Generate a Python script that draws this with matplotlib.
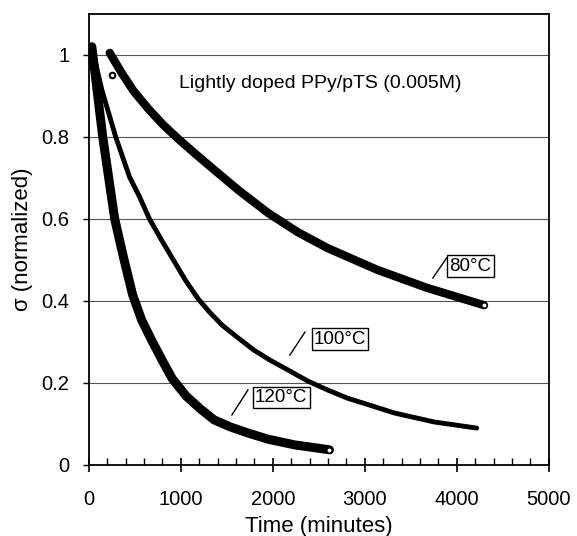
import numpy as np
import matplotlib
matplotlib.use("Agg")
import matplotlib.pyplot as plt
from matplotlib.ticker import MultipleLocator, FuncFormatter

plt.rcParams['font.family'] = ['Liberation Sans', 'DejaVu Sans']

# 80 C series (minutes, normalized sigma)
t80 = [227, 357, 486, 649, 811, 973, 1157, 1351, 1622, 1946, 2270, 2595, 3135, 3676, 4292]
s80 = [1.005, 0.956, 0.912, 0.868, 0.829, 0.795, 0.759, 0.722, 0.671, 0.615, 0.568, 0.529, 0.476, 0.432, 0.390]

# 100 C series
t100 = [32, 141, 292, 443, 551, 659, 789, 919, 1049, 1189, 1319, 1449, 1622, 1795, 1968, 2162,
        2378, 2595, 2811, 3081, 3319, 3751, 4216]
s100 = [1.02, 0.915, 0.80, 0.702, 0.654, 0.60, 0.549, 0.50, 0.451, 0.405, 0.371, 0.341, 0.310, 0.280,
        0.256, 0.232, 0.205, 0.183, 0.163, 0.144, 0.127, 0.105, 0.090]

# 120 C series
t120 = [32, 76, 151, 281, 378, 476, 573, 681, 800, 908, 1059, 1211, 1362, 1535, 1730, 1946, 2238, 2616]
s120 = [1.02, 0.939, 0.80, 0.60, 0.505, 0.415, 0.354, 0.305, 0.254, 0.21, 0.168, 0.137, 0.110, 0.093,
        0.078, 0.063, 0.049, 0.037]

# stray point near the start of the 80 C run
t80_pts = [250]
s80_pts = [0.95]

labels = ["80°C", "100°C", "120°C"]
label_xy = [(4150, 0.485), (2730, 0.307), (2090, 0.165)]
leader = [((3740, 0.456), (3890, 0.505)),
          ((2185, 0.268), (2350, 0.324)),
          ((1555, 0.122), (1730, 0.183))]

fig = plt.figure(figsize=(5.77, 5.36), dpi=100)
ax = fig.add_axes([0.154, 0.1325, 0.797, 0.8415])

ax.plot(t80, s80, color='black', lw=6.0, solid_capstyle='round', solid_joinstyle='round', zorder=3)
ax.plot(t100, s100, color='black', lw=3.5, solid_capstyle='round', solid_joinstyle='round', zorder=3)
ax.plot(t120, s120, color='black', lw=6.5, solid_capstyle='round', solid_joinstyle='round', zorder=3)
ax.plot(t80_pts, s80_pts, 'o', ms=4, mfc='white', mec='black', mew=1.5, zorder=4)
ax.plot(t80[-1], s80[-1], 'o', ms=4, mfc='white', mec='black', mew=1.2, zorder=4)
ax.plot(t120[-1], s120[-1], 'o', ms=4, mfc='white', mec='black', mew=1.2, zorder=4)

for lab, (x, y), (p0, p1) in zip(labels, label_xy, leader):
    ax.text(x, y, lab, ha='center', va='center', fontsize=13.5,
            bbox=dict(boxstyle='square,pad=0.12', fc='white', ec='black', lw=1))
    ax.plot([p0[0], p1[0]], [p0[1], p1[1]], color='black', lw=1)

ax.text(2520, 0.93, "Lightly doped PPy/pTS (0.005M)", ha='center', va='center', fontsize=14)

ax.set_xlim(0, 5000)
ax.set_ylim(0, 1.1)
ax.xaxis.set_major_locator(MultipleLocator(1000))
ax.xaxis.set_minor_locator(MultipleLocator(200))
ax.set_yticks([0, 0.2, 0.4, 0.6, 0.8, 1.0])
ax.yaxis.set_major_formatter(FuncFormatter(lambda v, p: "%g" % round(v, 1)))
ax.grid(axis='y', color='#555555', lw=0.8)
ax.tick_params(axis='x', which='major', direction='inout', length=10, width=1.2, labelsize=14.5, pad=13)
ax.tick_params(axis='x', which='minor', direction='in', length=5, width=1)
ax.tick_params(axis='y', direction='out', length=4, width=1, labelsize=14.5, pad=10)
for sp in ax.spines.values():
    sp.set_linewidth(1.3)

ax.set_xlabel("Time (minutes)", fontsize=16, labelpad=5)
ax.set_ylabel("σ (normalized)", fontsize=16, labelpad=6)

fig.savefig("out.png", dpi=100)
